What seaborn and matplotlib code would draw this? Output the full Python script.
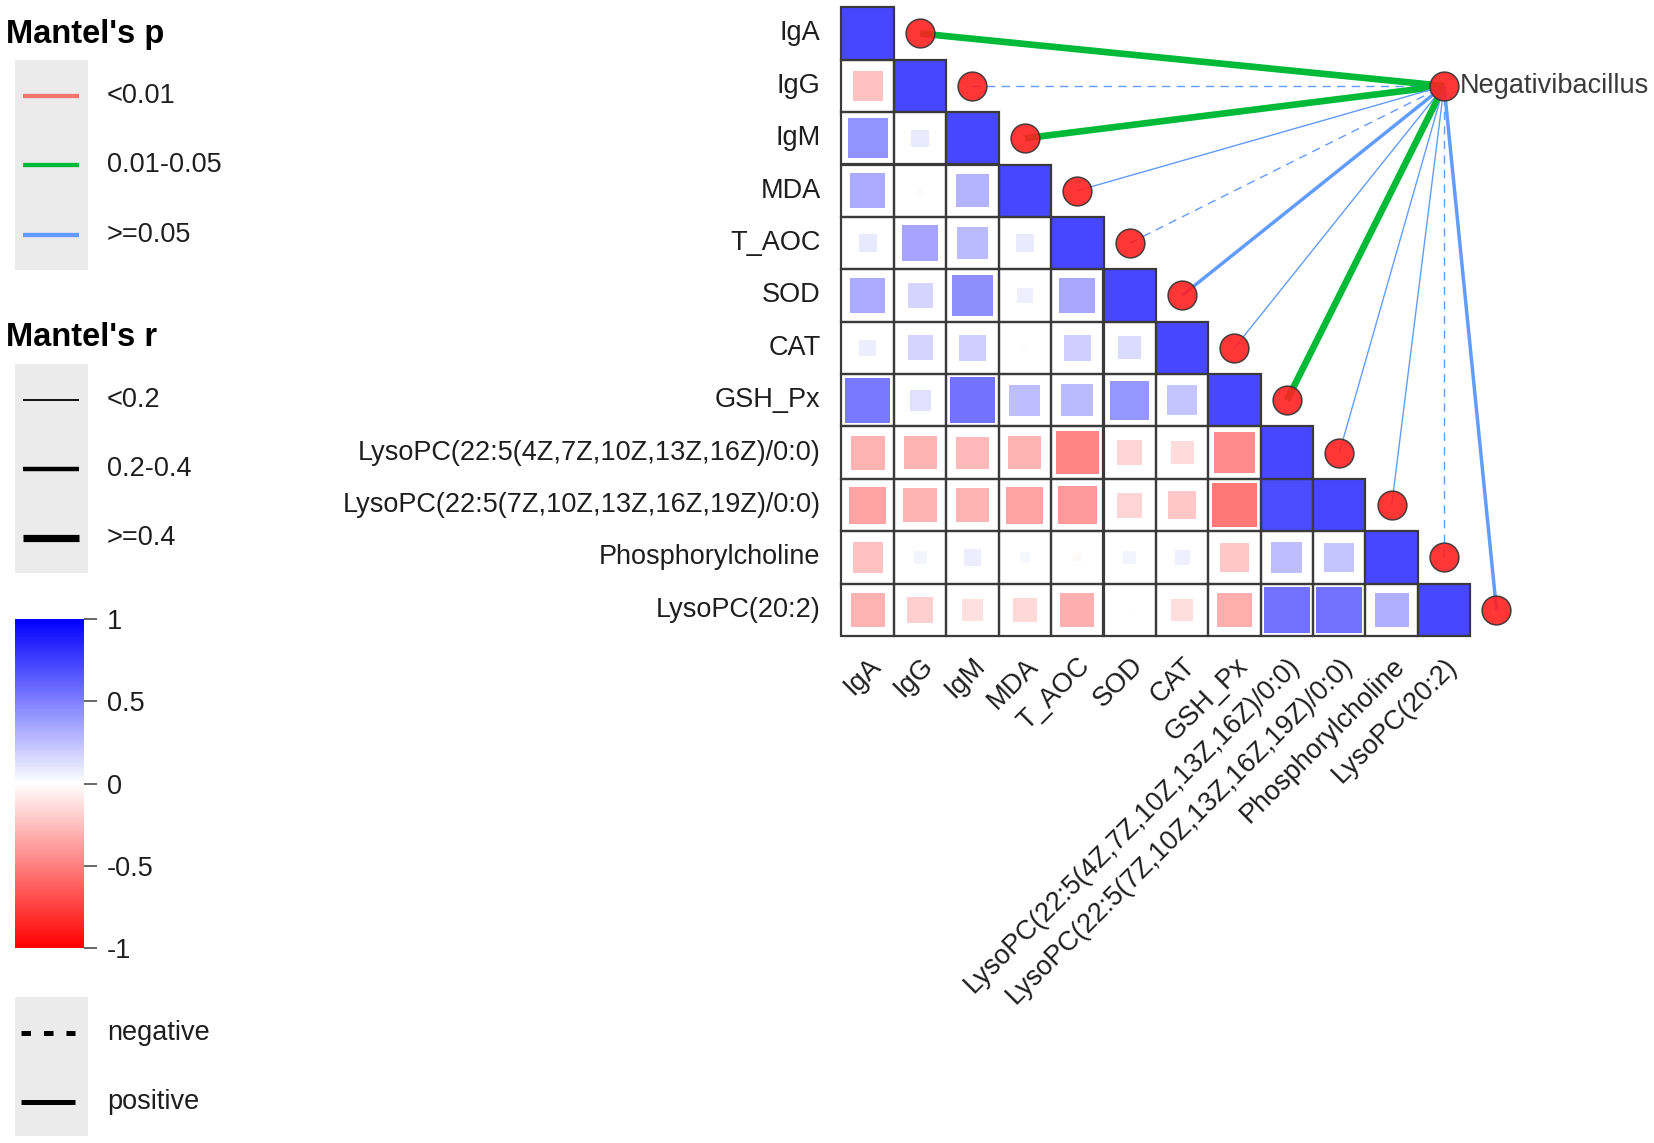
import numpy as np
import pandas as pd
import matplotlib
matplotlib.use("Agg")
import matplotlib.pyplot as plt
import seaborn as sns
from matplotlib.colors import LinearSegmentedColormap, ListedColormap, Normalize
from matplotlib.patches import Rectangle
from matplotlib.cm import ScalarMappable

# -----------------------------------
# Data
# -----------------------------------

variables = [
    "IgA", "IgG", "IgM", "MDA", "T_AOC", "SOD", "CAT", "GSH_Px",
    "LysoPC(22:5(4Z,7Z,10Z,13Z,16Z)/0:0)",
    "LysoPC(22:5(7Z,10Z,13Z,16Z,19Z)/0:0)",
    "Phosphorylcholine",
    "LysoPC(20:2)",
]

# lower triangle of the correlation matrix (row i holds i+1 values)
corr_rows = [
    [1],
    [-0.33, 1],
    [0.58, 0.11, 1],
    [0.46, 0.02, 0.41, 1],
    [0.12, 0.49, 0.37, 0.11, 1],
    [0.46, 0.23, 0.61, 0.09, 0.47, 1],
    [0.10, 0.23, 0.26, -0.01, 0.26, 0.19, 1],
    [0.72, 0.16, 0.76, 0.35, 0.37, 0.57, 0.32, 1],
    [-0.42, -0.40, -0.38, -0.40, -0.66, -0.23, -0.19, -0.63, 1],
    [-0.50, -0.42, -0.41, -0.50, -0.54, -0.23, -0.30, -0.73, 0.97, 1],
    [-0.33, 0.06, 0.10, 0.04, -0.03, 0.06, 0.08, -0.30, 0.35, 0.32, 1],
    [-0.42, -0.26, -0.17, -0.21, -0.43, -0.01, -0.18, -0.44, 0.76, 0.76, 0.43, 1],
]

species = "Negativibacillus"

mantel_p = ["0.01-0.05", ">=0.05", "0.01-0.05", ">=0.05", ">=0.05", ">=0.05",
            ">=0.05", "0.01-0.05", ">=0.05", ">=0.05", ">=0.05", ">=0.05"]
mantel_r = [">=0.4", "<0.2", ">=0.4", "<0.2", "<0.2", "0.2-0.4",
            "<0.2", ">=0.4", "<0.2", "<0.2", "<0.2", "0.2-0.4"]
mantel_sign = ["positive", "negative", "positive", "positive", "negative", "positive",
               "positive", "positive", "positive", "positive", "negative", "positive"]

p_levels = ["<0.01", "0.01-0.05", ">=0.05"]
r_levels = ["<0.2", "0.2-0.4", ">=0.4"]
sign_levels = ["negative", "positive"]
cbar_ticks = [-1, -0.5, 0, 0.5, 1]

# -----------------------------------
# Styles
# -----------------------------------

p_colors = {"<0.01": "#F8766D", "0.01-0.05": "#00BA38", ">=0.05": "#619CFF"}
r_widths = {"<0.2": 1.0, "0.2-0.4": 2.5, ">=0.4": 4.8}
r_key_widths = {"<0.2": 1.3, "0.2-0.4": 3.2, ">=0.4": 5.2}
link_styles = {"negative": (0, (6, 4.5)), "positive": "-"}
key_styles = {"negative": (0, (1.9, 2.6)), "positive": "-"}

W, H = 1654, 1143
FS = 19.5
TITLE_FS = 23.5
TXT = "#1e1e1e"

sns.set_theme(style="white")
plt.rcParams["font.family"] = ["Liberation Sans", "DejaVu Sans"]

cmap = LinearSegmentedColormap.from_list("rwb", ["#FF0000", "#FFFFFF", "#0000FF"])
norm = Normalize(-1, 1)

n = len(variables)
corr = np.full((n, n), np.nan)
for i, row in enumerate(corr_rows):
    corr[i, :len(row)] = row
corr_df = pd.DataFrame(corr, index=variables, columns=variables)

fig = plt.figure(figsize=(W / 100, H / 100), dpi=100)

# -----------------------------------
# Heatmap grid
# -----------------------------------

hm_left, hm_top, cell = 841.5, 7.3, 52.4
ax = fig.add_axes([hm_left / W, 1 - (hm_top + n * cell) / H, n * cell / W, n * cell / H])

mask = np.triu(np.ones((n, n), dtype=bool), k=1)
sns.heatmap(
    corr_df,
    mask=mask,
    cmap=ListedColormap([(1, 1, 1, 0)]),
    cbar=False,
    linewidths=0,
    xticklabels=variables,
    yticklabels=variables,
    ax=ax
)

for i, row in enumerate(corr_rows):
    for j, r in enumerate(row):
        side = np.sqrt(abs(r))
        ax.add_patch(Rectangle(
            (j + 0.5 - side / 2, i + 0.5 - side / 2), side, side,
            facecolor=cmap(norm(r)), alpha=0.72, lw=0, zorder=2
        ))
        # cell border
        ax.add_patch(Rectangle(
            (j, i), 1, 1, fill=False, edgecolor="#3a3a3a",
            lw=1.6, zorder=3, clip_on=False
        ))

# -----------------------------------
# Mantel links
# -----------------------------------

node_x, node_y = n - 0.5, 1.5

links = pd.DataFrame({
    "var": variables,
    "x": np.arange(n) + 1.5,
    "y": np.arange(n) + 0.5,
    "p": mantel_p,
    "r": mantel_r,
    "sign": mantel_sign,
})

for _, lk in links.iterrows():
    ax.plot(
        [lk["x"], node_x], [lk["y"], node_y],
        color=p_colors[lk["p"]],
        lw=r_widths[lk["r"]],
        linestyle=link_styles[lk["sign"]],
        solid_capstyle="butt",
        zorder=4,
        clip_on=False
    )

nodes = pd.concat([
    links[["x", "y"]],
    pd.DataFrame({"x": [node_x], "y": [node_y]})
], ignore_index=True)

sns.scatterplot(
    data=nodes, x="x", y="y",
    s=430, color="#FF2020", edgecolor="#333333", linewidth=1.1,
    alpha=0.9, zorder=5, clip_on=False, legend=False, ax=ax
)

ax.annotate(
    species, (node_x, node_y), xytext=(11, 0), textcoords="offset points",
    ha="left", va="center", fontsize=FS, color="#3a3a3a", annotation_clip=False
)

ax.set_xlim(0, n)
ax.set_ylim(n, 0)
ax.set_xlabel("")
ax.set_ylabel("")
ax.tick_params(length=0, labelsize=FS, colors=TXT)
ax.tick_params(axis="y", pad=15)
ax.tick_params(axis="x", pad=12)
plt.setp(ax.get_yticklabels(), rotation=0, ha="right")
plt.setp(ax.get_xticklabels(), rotation=45, ha="right", va="top", rotation_mode="anchor")
for s in ax.spines.values():
    s.set_visible(False)

# -----------------------------------
# Colorbar
# -----------------------------------

cax = fig.add_axes([15 / W, 1 - 948 / H, 69 / W, 329 / H])
cb = fig.colorbar(ScalarMappable(norm=norm, cmap=cmap), cax=cax, ticks=cbar_ticks)
cb.outline.set_visible(False)
cb.ax.set_yticklabels([f"{t:g}" for t in cbar_ticks])
cb.ax.tick_params(length=9.5, width=1.4, color="#666666", pad=7,
                  labelsize=FS, labelcolor=TXT)

# -----------------------------------
# Legends (pixel space)
# -----------------------------------

lg = fig.add_axes([0, 0, 1, 1], zorder=-1)
lg.set_xlim(0, W)
lg.set_ylim(H, 0)
lg.axis("off")


def key_box(y0, y1):
    lg.add_patch(Rectangle((15, y0), 73, y1 - y0, facecolor="#EBEBEB", lw=0))


def key_line(y, x0=23, x1=79, **kw):
    lg.plot([x0, x1], [y, y], solid_capstyle="butt", dash_capstyle="butt", **kw)


def key_text(y, txt):
    lg.text(107, y, txt, ha="left", va="center", fontsize=FS, color=TXT)


lg.text(6, 34, "Mantel's p", ha="left", va="center",
        fontsize=TITLE_FS, fontweight="bold", color="black")
key_box(60, 270)
for y, lev in zip([96, 165, 235], p_levels):
    key_line(y, color=p_colors[lev], lw=3.1)
    key_text(y, lev)

lg.text(6, 337, "Mantel's r", ha="left", va="center",
        fontsize=TITLE_FS, fontweight="bold", color="black")
key_box(364, 573)
for y, lev in zip([400, 469, 538], r_levels):
    key_line(y, color="black", lw=r_key_widths[lev])
    key_text(y, lev)

key_box(997, 1136)
for y, lev in zip([1033, 1102], sign_levels):
    key_line(y, x0=21, x1=75, color="black", lw=3.6, linestyle=key_styles[lev])
    key_text(y, lev)

fig.savefig("out.png", dpi=100, facecolor="white")
